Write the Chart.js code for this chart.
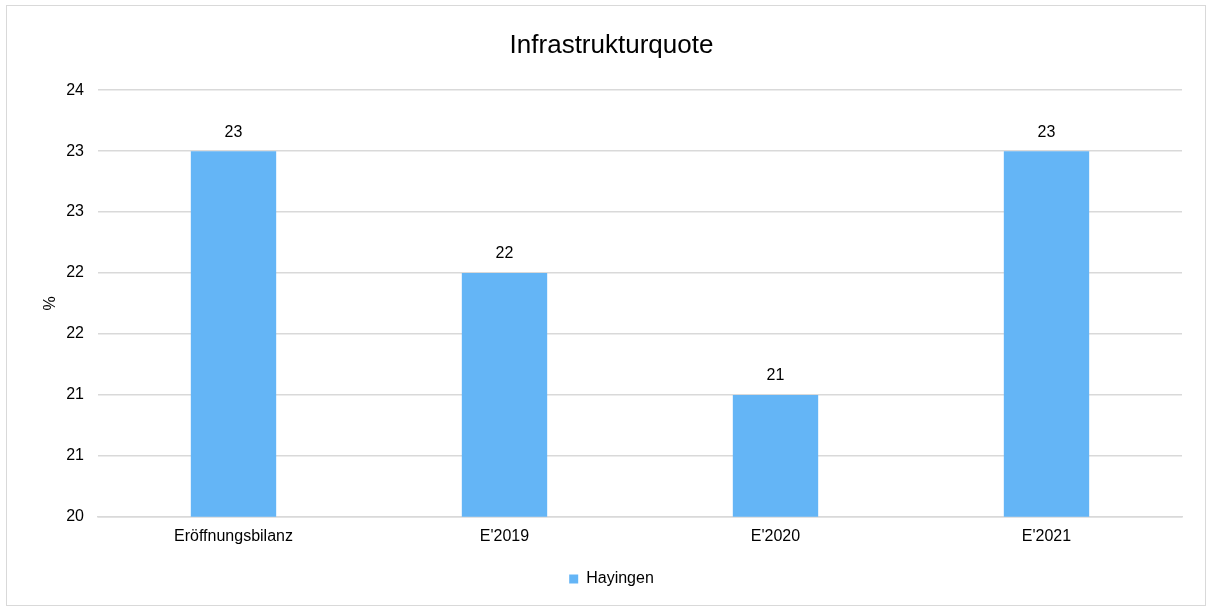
<!DOCTYPE html>
<html>
<head>
<meta charset="utf-8">
<script src="https://cdn.jsdelivr.net/npm/chart.js@4"></script>
<style>
  body { margin: 0; background: #fff; }
  #wrap {
    position: absolute; left: 6px; top: 5px;
    width: 1200px; height: 601px;
    border: 1px solid #d9d9d9; box-sizing: border-box;
  }
</style>
</head>
<body>
<div id="wrap"><canvas id="chart"></canvas></div>
<script>
// Chart data
const categories = ["Eröffnungsbilanz", "E'2019", "E'2020", "E'2021"];
const seriesName = "Hayingen";
const seriesValues = [23, 22, 21, 23];

const font = '"Liberation Sans", Arial, sans-serif';

// Simple value labels above bars
const valueLabels = {
    id: 'valueLabels',
    afterDatasetsDraw(chart) {
        const ctx = chart.ctx;
        ctx.save();
        ctx.font = '16px ' + font;
        ctx.fillStyle = '#000';
        ctx.textAlign = 'center';
        ctx.textBaseline = 'middle';
        chart.getDatasetMeta(0).data.forEach((bar, i) => {
            ctx.fillText(Math.round(seriesValues[i]), bar.x, bar.y - 19);
        });
        ctx.restore();
    }
};

new Chart(document.getElementById('chart'), {
    type: 'bar',
    data: {
        labels: categories,
        datasets: [{
            label: seriesName,
            data: seriesValues,
            backgroundColor: '#64b5f6',
            barPercentage: 0.63,
            categoryPercentage: 0.5
        }]
    },
    options: {
        responsive: true,
        maintainAspectRatio: false,
        animation: false,
        layout: { padding: { left: 34, right: 23, top: 10, bottom: 8 } },
        plugins: {
            title: {
                display: true,
                text: 'Infrastrukturquote',
                color: '#000',
                font: { family: font, size: 26, weight: 'normal' },
                padding: { top: 14, bottom: 29 }
            },
            legend: {
                position: 'bottom',
                labels: {
                    color: '#000',
                    font: { family: font, size: 16 },
                    boxWidth: 9,
                    boxHeight: 9,
                    padding: 23
                }
            },
            tooltip: { enabled: false }
        },
        scales: {
            x: {
                grid: { display: false },
                border: { color: '#d9d9d9', width: 1.5 },
                ticks: { color: '#000', font: { family: font, size: 16 }, padding: 2 }
            },
            y: {
                min: 20,
                max: 23.5,
                grid: { color: '#d9d9d9', lineWidth: 1.5, drawTicks: false },
                border: { display: false },
                ticks: {
                    stepSize: 0.5,
                    color: '#000',
                    font: { family: font, size: 16 },
                    padding: 14,
                    callback: v => Math.round(v)
                },
                title: {
                    display: true,
                    text: '%',
                    color: '#000',
                    font: { family: font, size: 16 },
                    padding: { top: 0, bottom: -8 }
                }
            }
        }
    },
    plugins: [valueLabels]
});
</script>
</body>
</html>
